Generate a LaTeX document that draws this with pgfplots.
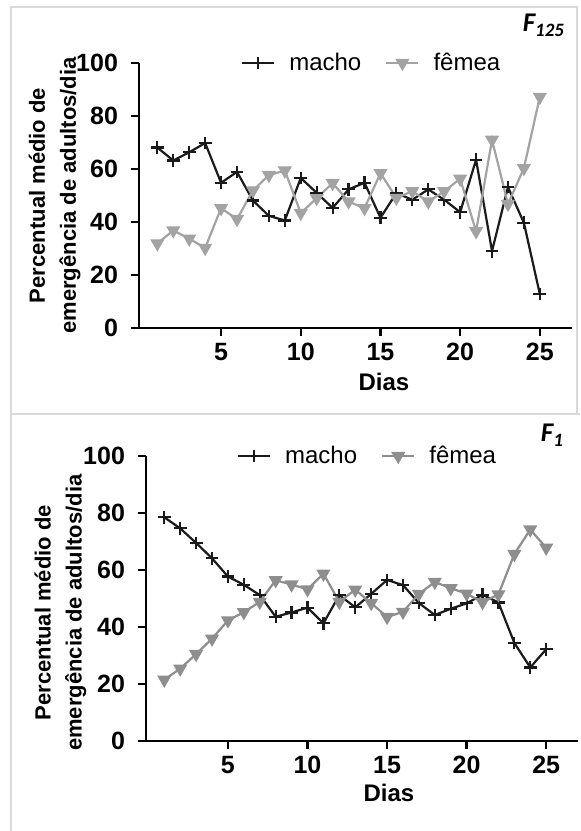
\documentclass[border=0pt]{standalone}
\usepackage{fontspec}
\setmainfont{Liberation Sans}
\newfontfamily\calfont{Carlito}
\usepackage{pgfplots}
\pgfplotsset{compat=1.18}
\definecolor{macho}{HTML}{1A1A1A}
\definecolor{femeaA}{HTML}{A3A3A3}
\definecolor{femeaB}{HTML}{8E8E8E}
\definecolor{boxgray}{HTML}{D9D9D9}

% 1 px of the reference = 0.5pt
\pgfplotsset{
  panel/.style={
    scale only axis,
    axis lines=left,
    axis line style={-, line width=1.2pt, black},
    tick style={line width=1.2pt, black},
    major tick length=4pt, tick align=outside,
    xmin=-0.15, xmax=27, ymin=0, ymax=100,
    xtick={5,10,15,20,25}, ytick={0,20,...,100},
    /pgf/number format/assume math mode=true,
    tick label style={font=\fontsize{12.5}{14}\selectfont\bfseries},
    yticklabel shift=3pt,
    xlabel style={font=\fontsize{12}{14}\selectfont\bfseries},
    ylabel style={font=\fontsize{11}{15.5}\selectfont\bfseries},
    xlabel={Dias},
    ylabel={Percentual médio de\\emergência de adultos/dia},
    legend columns=2,
    legend style={draw=none, fill=none, anchor=center,
      font=\fontsize{12}{14}\selectfont,
      /tikz/every odd column/.append style={column sep=5pt},
      /tikz/every even column/.append style={column sep=10pt}},
    legend image code/.code={\draw[mark repeat=2,mark phase=2]
      plot coordinates {(0pt,0pt) (8pt,0pt) (16pt,0pt)};},
  },
  macholine/.style={color=macho, line width=1.1pt, mark=+, mark size=3.2pt,
    mark options={line width=1.1pt}},
  femealine/.style={line width=1.1pt, mark=triangle*, mark size=3pt,
    mark options={rotate=180}},
}

\begin{document}
\begin{tikzpicture}
  \useasboundingbox (0,0) rectangle (290pt,415.5pt);
  \draw[boxgray, line width=1pt] (5.5pt,0pt) -- (5.5pt,412pt) -- (288.5pt,412pt) -- (288.5pt,208.5pt);
  \draw[boxgray, line width=1pt] (5.5pt,208.5pt) -- (290pt,208.5pt);

  % F125
  \begin{axis}[panel, at={(69.5pt,251.5pt)}, anchor=south west,
      width=216.35pt, height=132.5pt,
      xlabel style={at={(axis description cs:0.566,0)}, anchor=center, yshift=-27pt},
      ylabel style={at={(axis description cs:-0.195,0.5)}, anchor=center, align=center},
      legend style={at={(0.54,1)}},
    ]
    \addplot[macholine] coordinates {
      (1,68.1) (2,63.2) (3,66.3) (4,69.8) (5,54.8) (6,58.9) (7,48.1) (8,42.3)
      (9,40.6) (10,56.6) (11,51.0) (12,45.3) (13,52.3) (14,54.8) (15,41.6)
      (16,50.9) (17,48.4) (18,52.3) (19,48.4) (20,43.7) (21,63.5) (22,29.0)
      (23,53.2) (24,39.7) (25,12.8)};
    \addlegendentry{macho}
    \addplot[femealine, color=femeaA] coordinates {
      (1,31.9) (2,36.8) (3,33.7) (4,30.2) (5,45.2) (6,41.1) (7,51.9) (8,57.7)
      (9,59.4) (10,43.4) (11,49.0) (12,54.7) (13,47.7) (14,45.2) (15,58.4)
      (16,49.1) (17,51.6) (18,47.7) (19,51.6) (20,56.3) (21,36.5) (22,71.0)
      (23,46.8) (24,60.3) (25,87.2)};
    \addlegendentry{fêmea}
  \end{axis}
  \node[anchor=base east, font=\calfont\bfseries\itshape\fontsize{13.5}{15}\selectfont]
    at (286pt,399.5pt) {F\textsubscript{125}};

  % F1
  \begin{axis}[panel, at={(73pt,45pt)}, anchor=south west,
      width=216pt, height=142.5pt,
      xlabel style={at={(axis description cs:0.5625,0)}, anchor=center, yshift=-26pt},
      ylabel style={at={(axis description cs:-0.198,0.45)}, anchor=center, align=center},
      legend style={at={(0.515,1)}},
    ]
    \addplot[macholine] coordinates {
      (1,78.5) (2,74.6) (3,69.5) (4,64.1) (5,57.7) (6,54.8) (7,51.2) (8,43.6)
      (9,45.1) (10,46.8) (11,41.3) (12,51.2) (13,46.9) (14,51.6) (15,56.5)
      (16,54.7) (17,48.4) (18,44.2) (19,46.4) (20,48.3) (21,51.3) (22,48.6)
      (23,34.4) (24,25.8) (25,32.2)};
    \addlegendentry{macho}
    \addplot[femealine, color=femeaB] coordinates {
      (1,21.5) (2,25.4) (3,30.5) (4,35.9) (5,42.3) (6,45.2) (7,48.8) (8,56.4)
      (9,54.9) (10,53.2) (11,58.7) (12,48.8) (13,53.1) (14,48.4) (15,43.5)
      (16,45.3) (17,51.6) (18,55.8) (19,53.6) (20,51.7) (21,48.7) (22,51.4)
      (23,65.6) (24,74.2) (25,67.8)};
    \addlegendentry{fêmea}
  \end{axis}
  \node[anchor=base east, font=\calfont\bfseries\itshape\fontsize{13.5}{15}\selectfont]
    at (285.5pt,194.5pt) {F\textsubscript{1}};
\end{tikzpicture}
\end{document}
